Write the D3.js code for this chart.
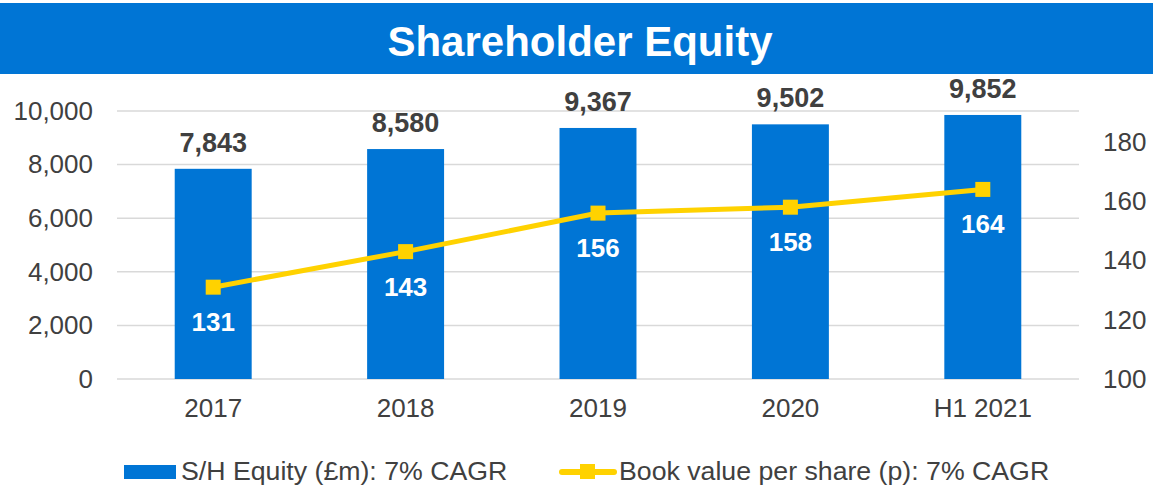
<!DOCTYPE html>
<html>
<head>
<meta charset="utf-8">
<script src="https://cdn.jsdelivr.net/npm/d3@7"></script>
<style>
  body { margin: 0; background: #fff; }
  text { font-family: Arial, "Liberation Sans", sans-serif; }
</style>
</head>
<body>
<div id="chart-area"></div>
<script>
// Data
var categories = ["2017", "2018", "2019", "2020", "H1 2021"];
var equity = [7843, 8580, 9367, 9502, 9852];
var bookValue = [131, 143, 156, 158, 164];
var leftTicks = [0, 2000, 4000, 6000, 8000, 10000];
var rightTicks = [100, 120, 140, 160, 180];
var legendLabels = ["S/H Equity (£m): 7% CAGR", "Book value per share (p): 7% CAGR"];

var width = 1153, height = 487;
var blue = "#0075d5", gold = "#ffd200", ink = "#404040";
var font = "Arial, 'Liberation Sans', sans-serif";

var svg = d3.select("#chart-area").append("svg")
  .attr("width", width)
  .attr("height", height);

// Title bar
svg.append("rect")
  .attr("x", 0).attr("y", 3)
  .attr("width", width).attr("height", 71)
  .attr("fill", blue);

svg.append("text")
  .attr("x", 580).attr("y", 56)
  .attr("text-anchor", "middle")
  .attr("font-size", "42px")
  .attr("font-weight", "bold")
  .attr("fill", "#fff")
  .text("Shareholder Equity");

// Scales
var x = d3.scaleBand()
  .domain(categories)
  .range([117, 1079])
  .paddingInner(0.6)
  .paddingOuter(0.3);

var y = d3.scaleLinear()
  .domain([0, 10000])
  .range([379, 111]);

var y2 = d3.scaleLinear()
  .domain([100, 190])
  .range([379, 112.4]);

// Gridlines
svg.append("g")
  .selectAll("line")
  .data(leftTicks)
  .enter().append("line")
    .attr("x1", 117).attr("x2", 1079)
    .attr("y1", function(d) { return y(d); })
    .attr("y2", function(d) { return y(d); })
    .attr("stroke", "#d9d9d9")
    .attr("stroke-width", 1.5);

// Left axis
var yAxis = svg.append("g")
  .attr("transform", "translate(100,0)")
  .call(d3.axisLeft(y).tickValues(leftTicks).tickSize(0).tickPadding(7)
    .tickFormat(d3.format(",")));
yAxis.select(".domain").remove();
yAxis.selectAll("text")
  .attr("font-size", "26px")
  .attr("fill", ink)
  .attr("font-family", font);

// Right axis
var y2Axis = svg.append("g")
  .attr("transform", "translate(1097,0)")
  .call(d3.axisRight(y2).tickValues(rightTicks).tickSize(0).tickPadding(6));
y2Axis.select(".domain").remove();
y2Axis.selectAll("text")
  .attr("font-size", "26px")
  .attr("fill", ink)
  .attr("font-family", font);

// X axis
var xAxis = svg.append("g")
  .attr("transform", "translate(0,379)")
  .call(d3.axisBottom(x).tickSize(0).tickPadding(20));
xAxis.select(".domain").remove();
xAxis.selectAll("text")
  .attr("font-size", "26px")
  .attr("fill", ink)
  .attr("font-family", font);

// Bars
svg.append("g")
  .selectAll("rect")
  .data(equity)
  .enter().append("rect")
    .attr("x", function(d, i) { return x(categories[i]); })
    .attr("y", function(d) { return y(d); })
    .attr("width", x.bandwidth())
    .attr("height", function(d) { return y(0) - y(d); })
    .attr("fill", blue);

// Bar labels
svg.append("g")
  .selectAll("text")
  .data(equity)
  .enter().append("text")
    .attr("x", function(d, i) { return x(categories[i]) + x.bandwidth() / 2; })
    .attr("y", function(d) { return y(d) - 17; })
    .attr("text-anchor", "middle")
    .attr("font-size", "27px")
    .attr("font-weight", "bold")
    .attr("fill", ink)
    .text(function(d) { return d3.format(",")(d); });

// Line
var line = d3.line()
  .x(function(d, i) { return x(categories[i]) + x.bandwidth() / 2; })
  .y(function(d) { return y2(d); });

svg.append("path")
  .datum(bookValue)
  .attr("d", line)
  .attr("fill", "none")
  .attr("stroke", gold)
  .attr("stroke-width", 5);

svg.append("g")
  .selectAll("rect")
  .data(bookValue)
  .enter().append("rect")
    .attr("x", function(d, i) { return x(categories[i]) + x.bandwidth() / 2 - 7.5; })
    .attr("y", function(d) { return y2(d) - 7.5; })
    .attr("width", 15).attr("height", 15)
    .attr("fill", gold);

// Line labels
svg.append("g")
  .selectAll("text")
  .data(bookValue)
  .enter().append("text")
    .attr("x", function(d, i) { return x(categories[i]) + x.bandwidth() / 2; })
    .attr("y", function(d) { return y2(d) + 44; })
    .attr("text-anchor", "middle")
    .attr("font-size", "26px")
    .attr("font-weight", "bold")
    .attr("fill", "#fff")
    .text(function(d) { return d; });

// Legend
var legend = svg.append("g");
legend.append("rect")
  .attr("x", 124).attr("y", 465)
  .attr("width", 52).attr("height", 14)
  .attr("fill", blue);
legend.append("text")
  .attr("x", 181).attr("y", 480)
  .attr("font-size", "26.7px")
  .attr("fill", ink)
  .text(legendLabels[0]);

legend.append("line")
  .attr("x1", 562).attr("x2", 614)
  .attr("y1", 472).attr("y2", 472)
  .attr("stroke", gold)
  .attr("stroke-width", 6)
  .attr("stroke-linecap", "round");
legend.append("rect")
  .attr("x", 580).attr("y", 464)
  .attr("width", 15).attr("height", 15)
  .attr("fill", gold);
legend.append("text")
  .attr("x", 619).attr("y", 480)
  .attr("font-size", "26.7px")
  .attr("fill", ink)
  .text(legendLabels[1]);
</script>
</body>
</html>
